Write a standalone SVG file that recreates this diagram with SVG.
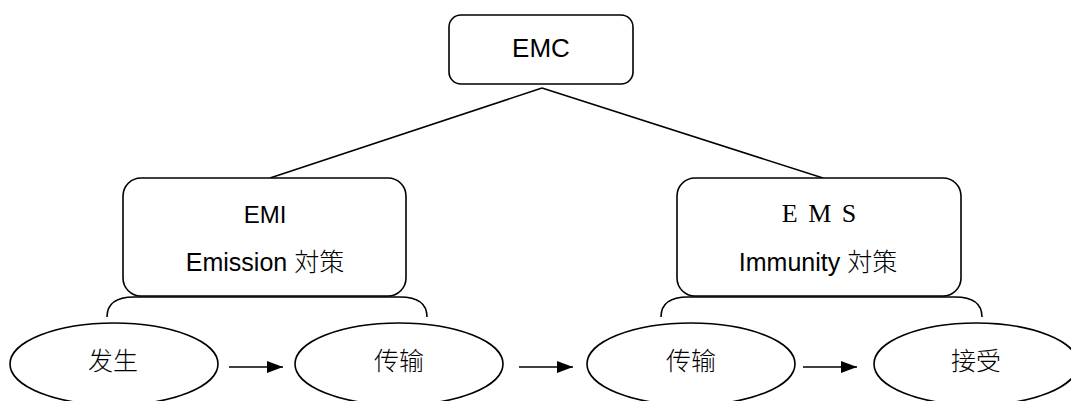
<svg xmlns="http://www.w3.org/2000/svg" width="1071" height="401" viewBox="0 0 1071 401">
  <defs>
    <style>
      .box { fill: #ffffff; stroke: #000000; stroke-width: 1.6; }
      .ell { fill: #ffffff; stroke: #000000; stroke-width: 1.6; }
      .line { fill: none; stroke: #000000; stroke-width: 1.5; }
      .brace { fill: none; stroke: #000000; stroke-width: 1.6; }
      .sans { font-family: "Liberation Sans", "Noto Sans CJK JP", sans-serif; fill: #000000; text-anchor: middle; }
      .serif { font-family: "Liberation Serif", "Noto Sans CJK JP", serif; fill: #000000; text-anchor: middle; }
      .cjk { font-family: "Noto Sans CJK SC", sans-serif; font-weight: 300; fill: #000000; text-anchor: middle; font-size: 25px; }
    </style>
    <marker id="arrow" viewBox="0 0 16 12" refX="16" refY="6" markerWidth="16" markerHeight="12" markerUnits="userSpaceOnUse" orient="auto">
      <path d="M0,0 L16,6 L0,12 Z" fill="#000000"/>
    </marker>
  </defs>

  <g id="connectors">
    <line class="line" x1="542" y1="88" x2="270" y2="178"/>
    <line class="line" x1="542" y1="88" x2="823" y2="178"/>
    <path class="brace" d="M107,317 Q107,297 134,297 L400,297 Q427,297 427,317"/>
    <path class="brace" d="M661,317 Q661,297 688,297 L955,297 Q982,297 982,317"/>
    <line class="line" x1="229" y1="367" x2="283" y2="367" marker-end="url(#arrow)"/>
    <line class="line" x1="519" y1="367" x2="573" y2="367" marker-end="url(#arrow)"/>
    <line class="line" x1="803" y1="367" x2="857" y2="367" marker-end="url(#arrow)"/>
  </g>

  <g id="node-emc">
    <rect class="box" x="449" y="15" width="184" height="69" rx="12" ry="12"/>
    <text class="sans" x="541" y="57" font-size="26">EMC</text>
  </g>

  <g id="node-emi">
    <rect class="box" x="123" y="178" width="283" height="118" rx="18" ry="18"/>
    <text class="sans" x="265" y="223" font-size="24">EMI</text>
    <text class="sans" x="265" y="271" font-size="25">Emission <tspan font-family="Noto Sans CJK JP" font-weight="300">対策</tspan></text>
  </g>

  <g id="node-ems">
    <rect class="box" x="677" y="178" width="284" height="118" rx="18" ry="18"/>
    <text class="serif" x="820" y="222" font-size="26" letter-spacing="2">E M S</text>
    <text class="sans" x="818" y="271" font-size="25">Immunity <tspan font-family="Noto Sans CJK JP" font-weight="300">対策</tspan></text>
  </g>

  <g id="node-fasheng">
    <ellipse class="ell" cx="114" cy="364" rx="104" ry="41"/>
    <text class="cjk" x="113" y="370">发生</text>
  </g>

  <g id="node-chuanshu1">
    <ellipse class="ell" cx="399" cy="364" rx="104" ry="41"/>
    <text class="cjk" x="399" y="370">传输</text>
  </g>

  <g id="node-chuanshu2">
    <ellipse class="ell" cx="691" cy="364" rx="104" ry="41"/>
    <text class="cjk" x="691" y="370">传输</text>
  </g>

  <g id="node-jieshou">
    <ellipse class="ell" cx="976" cy="364" rx="102" ry="41"/>
    <text class="cjk" x="976" y="370">接受</text>
  </g>
</svg>
